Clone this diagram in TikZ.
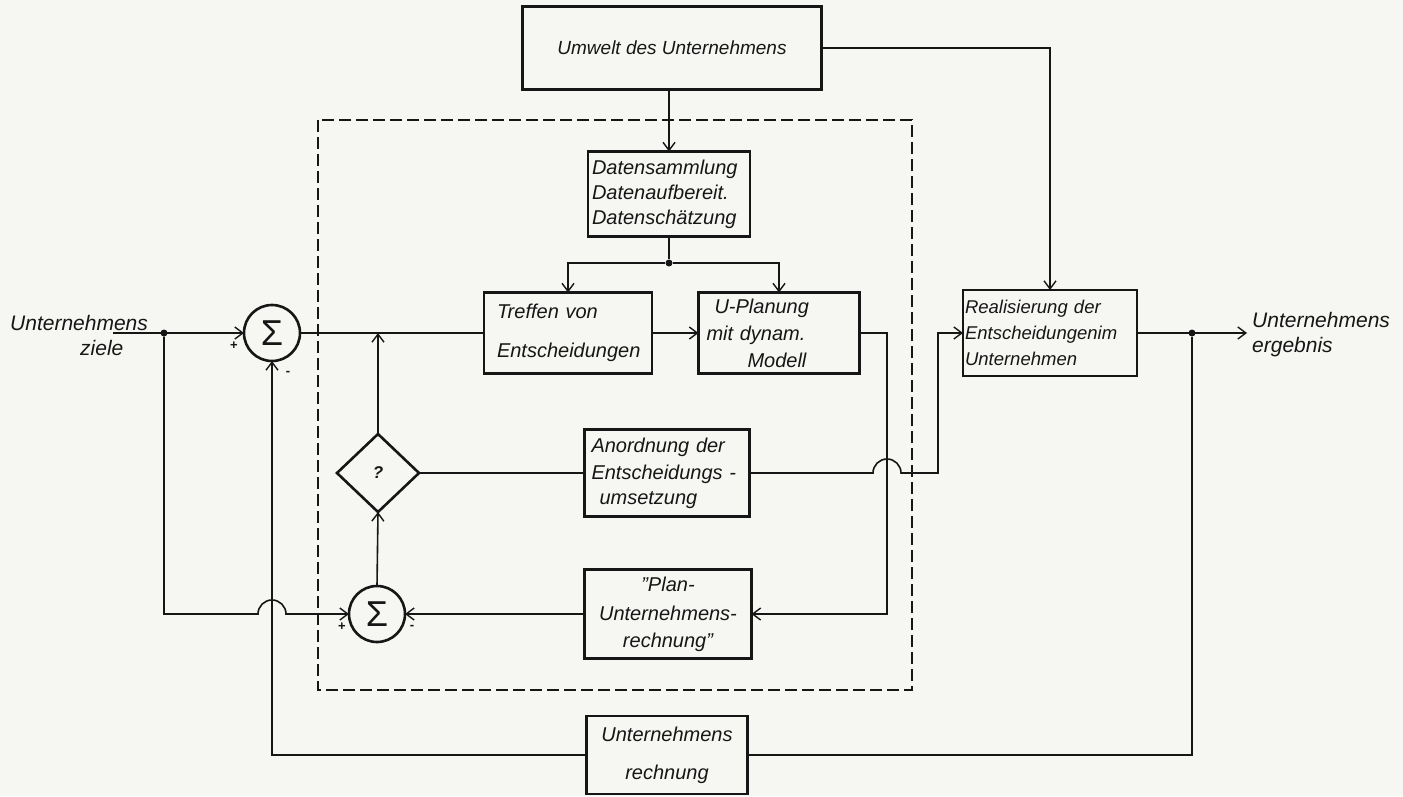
\documentclass[tikz,border=0pt]{standalone}
\usepackage{fontspec}
\setmainfont{Liberation Sans}
\usetikzlibrary{arrows.meta,shapes.geometric}
\definecolor{paper}{RGB}{246,246,243}
\definecolor{ink}{RGB}{22,22,22}
\newcommand\bxfont{\fontsize{20}{25}\selectfont\itshape}
\newcommand\lbfont{\fontsize{21}{25}\selectfont\itshape}
\newcommand\sgfont{\fontsize{36}{36}\selectfont\upshape}
\newcommand\pmfont{\fontsize{13}{13}\selectfont\bfseries}
\begin{document}
\begin{tikzpicture}[x=1pt,y=-1pt,
  box/.style={draw=ink, line width=2.6pt, rectangle, inner sep=0pt, outer sep=0pt, font=\bxfont, align=left, text=ink},
  conn/.style={draw=ink, line width=1.6pt},
  arr/.style={conn, -{Straight Barb[length=8pt,width=12pt,line width=1.4pt]}},
  sumnode/.style={circle, draw=ink, line width=2.6pt, minimum size=56pt, inner sep=0pt, outer sep=0pt, font=\sgfont, text=ink},
  decide/.style={diamond, draw=ink, line width=2.6pt, minimum width=82pt, minimum height=78pt, inner sep=0pt, outer sep=0pt, font=\fontsize{17}{17}\selectfont\itshape\bfseries, text=ink},
  dot/.style={circle, fill=ink, inner sep=0pt, minimum size=7pt},
  sign/.style={font=\pmfont, inner sep=0pt, text=ink},
  lbl/.style={font=\lbfont, align=left, inner sep=0pt, text=ink},
  envelope/.style={draw=ink, line width=2pt, dash pattern=on 12pt off 5pt}
]
\fill[paper] (0,0) rectangle (1403,796);
\useasboundingbox (0,0) rectangle (1403,796);

% dashed planning boundary
\draw[envelope] (318,120) rectangle (912,690);

% boxes
\node[box, minimum width=299pt, minimum height=83pt, font=\fontsize{19}{24}\selectfont\itshape] (umwelt) at (672,48) {Umwelt des Unternehmens};
\node[box, minimum width=162pt, minimum height=85pt, text width=154pt] (daten) at (669,194) {Datensammlung\\Datenaufbereit.\\Datenschätzung};
\node[box, minimum width=168pt, minimum height=81pt, text width=150pt] (treffen) at (568,333) {\hspace*{4pt}Treffen von\\[14pt]\hspace*{4pt}Entscheidungen};
\node[box, minimum width=161pt, minimum height=81pt, text width=153pt] (uplan) at (779,333) {\hspace*{12pt}U-Planung\\[2pt]\hspace*{4pt}mit dynam.\\[2pt]\hspace*{45pt}Modell};
\node[box, minimum width=165pt, minimum height=87pt, text width=155pt] (anord) at (667,473) {\hspace*{2pt}Anordnung der\\[2pt]\hspace*{2pt}Entscheidungs -\\\hspace*{10pt}umsetzung};
\node[box, minimum width=167pt, minimum height=89pt, text width=160pt, align=center] (plan) at (668,614) {"Plan-\\[4pt]Unternehmens-\\[2pt]rechnung"};
\node[box, minimum width=174pt, minimum height=86pt, text width=170pt, font=\fontsize{18.5}{26}\selectfont\itshape] (real) at (1050,333) {Realisierung der\\Entscheidungenim\\Unternehmen};
\node[box, minimum width=161pt, minimum height=78pt, text width=155pt, align=center] (urech) at (667,755) {Unternehmens\\[13pt]rechnung};

% summing points and decision
\node[sumnode] (s1) at (272,333) {Σ};
\node[sumnode] (s2) at (377,614) {Σ};
\node[decide] (diam) at (378,473) {?};

% signs
\node[sign] (p1) at (234,346) {+};
\node[sign] (m1) at (288,373) {-};
\node[sign] (p2) at (342,627) {+};
\node[sign] (m2) at (412,627) {-};

% outer labels
\node[lbl, anchor=west] (inlbl) at (10,335) {Unternehmens\\\hspace*{70pt}ziele};
\node[lbl, anchor=west] (outlbl) at (1252,335) {Unternehmens\\ergebnis};

% helper coordinates
\coordinate (in1) at (113,333);
\node[dot] (d1) at (164,333) {};
\node[dot] (d2) at (669,263) {};
\node[dot] (d3) at (1192,333) {};
\coordinate (j1) at (378,333);
\coordinate (out) at (1247,333);

% connectors
\draw[arr] (in1) -- (s1.west);
\draw[conn] (s1.east) -- (treffen.west);
\draw[arr] (treffen.east) -- (uplan.west);
\draw[arr] (diam.north) -- (j1);
\draw[conn] (anord.west) -- (diam.east);
\draw[arr] (s2.north) -- (diam.south);
\draw[arr] (d1) -- (164,614) -- (258,614) arc[start angle=180, end angle=0, radius=14pt] -- (s2.west);
\draw[arr] (plan.west) -- (s2.east);
\draw[arr] (uplan.east) -- (887,333) -- (887,614) -- (plan.east);
\draw[arr] (anord.east) -- (873,473) arc[start angle=180, end angle=0, radius=14pt] -- (938,473) -- (938,333) -- (real.west);
\draw[arr] (umwelt.east) -- (umwelt.east -| real.north) -- (real.north);
\draw[arr] (umwelt.south -| daten.north) -- (daten.north);
\draw[conn] (daten.south) -- (d2);
\draw[arr] (d2) -- (d2 -| treffen.north) -- (treffen.north);
\draw[arr] (d2) -- (d2 -| uplan.north) -- (uplan.north);
\draw[arr] (real.east) -- (out);
\draw[conn] (d3) -- (1192,755) -- (urech.east);
\draw[arr] (urech.west) -- (272,755) -- (s1.south);
\end{tikzpicture}
\end{document}
